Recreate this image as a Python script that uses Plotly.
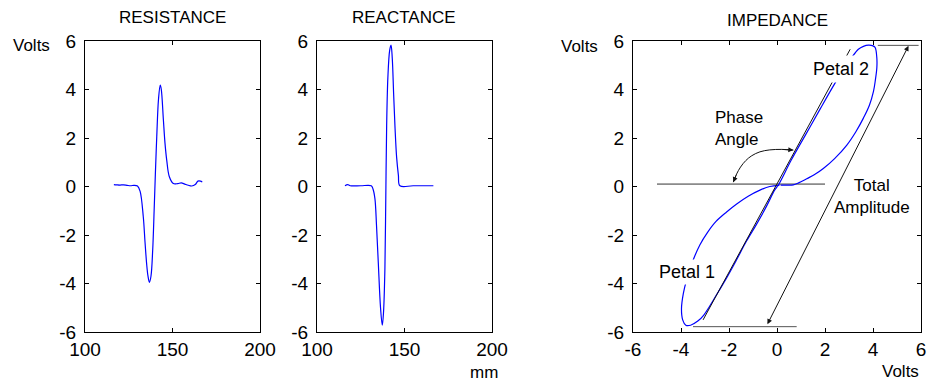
import plotly.graph_objects as go

# ---------------- data ----------------
res_mm = [116.5, 118, 120, 122, 124, 126, 128, 130, 131.5, 133.3, 134.3, 135.2, 136.0, 136.8,
          137.7, 138.7, 139.5, 140.2, 141.0, 142.0, 143.0, 143.6, 144.8, 145.7, 146.7, 148.2,
          150.5, 153, 155, 157, 159, 161, 163, 164.5, 166, 167]
res_v = [0.08, 0.07, 0.06, 0.07, 0.05, 0.03, 0.05, 0.02, -0.2, -1.25, -2.3, -3.17, -3.7, -3.95,
         -3.7, -2.6, -1.0, 0.5, 2.05, 3.6, 4.18, 4.0, 2.74, 1.8, 1.09, 0.4,
         0.12, 0.12, 0.15, 0.1, 0.05, 0.02, 0.08, 0.22, 0.22, 0.18]

rea_mm = [116, 117.5, 119, 125, 131, 132, 133.1, 134, 135, 136.3, 137.3, 138, 138.8, 139.3,
          139.8, 140.5, 141.5, 142.3, 143, 143.8, 144.6, 145.5, 146.5, 147.4, 155, 166.5]
rea_v = [0.03, 0.08, 0.03, 0.03, 0.03, -0.1, -0.5, -1.6, -3.1, -5.0, -5.72, -5.2, -3.4, -0.5,
         2.5, 4.5, 5.6, 5.83, 5.3, 3.8, 2.4, 1.2, 0.47, 0.03, 0.03, 0.03]

imp_r = [0.1, -0.3, -0.71, -1.2, -1.68, -2.1, -2.55, -2.9, -3.21, -3.5, -3.75, -3.9, -3.98, -3.93,
         -3.8, -3.6, -3.3, -3.05, -2.6, -2.1, -1.7, -1.27, -0.85, -0.43, -0.1, 0.05,
         0.6, 1.2, 1.8, 2.35, 2.75, 3.1, 3.39, 3.6, 3.81, 4.0, 4.09, 4.16, 4.16, 4.1, 4.02,
         3.85, 3.6, 3.28, 2.91, 2.4, 1.93, 1.55, 1.24, 0.9, 0.68, 0.4, 0.15]
imp_x = [0.05, 0.0, -0.15, -0.4, -0.72, -1.05, -1.45, -1.9, -2.4, -3.05, -3.8, -4.4, -5.05, -5.5,
         -5.72, -5.72, -5.55, -5.3, -4.6, -3.77, -3.05, -2.25, -1.55, -0.8, -0.15, 0.05,
         1.1, 2.15, 3.2, 4.15, 4.8, 5.3, 5.66, 5.78, 5.83, 5.8, 5.73, 5.3, 4.9, 4.4, 3.92,
         3.35, 2.82, 2.25, 1.71, 1.15, 0.74, 0.48, 0.32, 0.15, 0.07, 0.06, 0.06]

# construction lines in the impedance panel
base_x = [-5.0, 2.0]
base_y = [0.1, 0.1]
tangent_x = [-3.08, 3.05]
tangent_y = [-5.5, 5.66]
top_x = [4.2, 5.9]
top_y = [5.82, 5.82]
bot_x = [-3.5, 0.82]
bot_y = [-5.78, -5.78]
arc_x = [0.68, 0.2, -0.3, -0.71, -1.05, -1.3, -1.52, -1.68, -1.82]
arc_y = [1.5, 1.53, 1.51, 1.43, 1.27, 1.07, 0.8, 0.52, 0.18]
amp_head = [5.48, 5.8]
amp_tail = [-0.43, -5.74]

ticks_mm = [100, 150, 200]
ticks_v = [-6, -4, -2, 0, 2, 4, 6]
ticks_v_txt = ["-6", "-4", "-2", "0", "2", "4", "6"]

BLUE = "#0000ff"
FONT = "Liberation Sans, Arial, sans-serif"

fig = go.Figure()
fig.add_trace(go.Scatter(x=res_mm, y=res_v, mode="lines", line=dict(color=BLUE, width=1.2),
                         xaxis="x", yaxis="y", line_shape="spline"))
fig.add_trace(go.Scatter(x=rea_mm, y=rea_v, mode="lines", line=dict(color=BLUE, width=1.2),
                         xaxis="x2", yaxis="y2", line_shape="spline"))
fig.add_trace(go.Scatter(x=base_x, y=base_y, mode="lines", line=dict(color="#333", width=1),
                         xaxis="x3", yaxis="y3"))
fig.add_trace(go.Scatter(x=top_x, y=top_y, mode="lines", line=dict(color="#555", width=1),
                         xaxis="x3", yaxis="y3"))
fig.add_trace(go.Scatter(x=bot_x, y=bot_y, mode="lines", line=dict(color="#555", width=1),
                         xaxis="x3", yaxis="y3"))
fig.add_trace(go.Scatter(x=imp_r, y=imp_x, mode="lines", line=dict(color=BLUE, width=1.2),
                         xaxis="x3", yaxis="y3", line_shape="spline"))
fig.add_trace(go.Scatter(x=tangent_x, y=tangent_y, mode="lines", line=dict(color="#111", width=1),
                         xaxis="x3", yaxis="y3"))
fig.add_trace(go.Scatter(x=arc_x, y=arc_y, mode="lines", line=dict(color="#111", width=1),
                         xaxis="x3", yaxis="y3", line_shape="spline"))

axis_common = dict(showline=True, linecolor="black", linewidth=1, mirror="ticks",
                   ticks="inside", ticklen=4, tickcolor="black", showgrid=False,
                   zeroline=False, tickfont=dict(family=FONT, size=19, color="black"),
                   fixedrange=True, automargin=False)
ydom = [1 - 332 / 386, 1 - 41 / 386]


def paper_text(txt, px, py, size=17):
    return dict(text=txt, x=px / 927, y=1 - py / 386, xref="paper", yref="paper",
                xanchor="center", yanchor="middle", showarrow=False,
                font=dict(size=size, family=FONT, color="black"))


annotations = [
    paper_text("RESISTANCE", 172.5, 17),
    paper_text("REACTANCE", 404, 17),
    paper_text("IMPEDANCE", 777, 21),
    paper_text("Volts", 31, 46),
    paper_text("Volts", 579, 47),
    paper_text("mm", 484, 372),
    paper_text("Volts", 900, 371),
    dict(text="Petal 2", x=2.67, y=4.83, xref="x3", yref="y3", showarrow=False,
         xanchor="center", yanchor="middle",
         bgcolor="white", borderpad=3, font=dict(size=18, family=FONT, color="black")),
    dict(text="Petal 1", x=-3.73, y=-3.52, xref="x3", yref="y3", showarrow=False,
         xanchor="center", yanchor="middle",
         bgcolor="white", borderpad=2, font=dict(size=18, family=FONT, color="black")),
    dict(text="Phase<br>Angle", x=-1.6, y=2.4, xref="x3", yref="y3", showarrow=False,
         xanchor="center", yanchor="middle",
         align="left", font=dict(size=17, family=FONT, color="black")),
    dict(text="Total<br>Amplitude", x=3.97, y=-0.42, xref="x3", yref="y3", showarrow=False,
         xanchor="center", yanchor="middle",
         align="center", font=dict(size=17, family=FONT, color="black")),
    dict(text="", x=amp_head[0], y=amp_head[1], ax=amp_tail[0], ay=amp_tail[1],
         xref="x3", yref="y3", axref="x3", ayref="y3", showarrow=True,
         arrowhead=2, startarrowhead=2, arrowside="end+start", arrowsize=1,
         startarrowsize=1, arrowwidth=1, arrowcolor="#111"),
    dict(text="", x=arc_x[0], y=arc_y[0], ax=arc_x[1], ay=arc_y[1],
         xref="x3", yref="y3", axref="x3", ayref="y3", showarrow=True,
         arrowhead=2, arrowsize=1, arrowwidth=1, arrowcolor="#111"),
    dict(text="", x=arc_x[-1], y=arc_y[-1], ax=arc_x[-2], ay=arc_y[-2],
         xref="x3", yref="y3", axref="x3", ayref="y3", showarrow=True,
         arrowhead=2, arrowsize=1, arrowwidth=1, arrowcolor="#111"),
]

fig.update_layout(
    width=927, height=386, margin=dict(l=0, r=0, t=0, b=0, autoexpand=False),
    paper_bgcolor="white", plot_bgcolor="white", showlegend=False,
    xaxis=dict(domain=[85 / 927, 260 / 927], range=[100, 200], tickvals=ticks_mm,
               anchor="y", **axis_common),
    yaxis=dict(domain=ydom, range=[-6, 6], tickvals=ticks_v, ticktext=ticks_v_txt,
               anchor="x", ticklabelstandoff=4, **axis_common),
    xaxis2=dict(domain=[317 / 927, 492 / 927], range=[100, 200], tickvals=ticks_mm,
                anchor="y2", **axis_common),
    yaxis2=dict(domain=ydom, range=[-6, 6], tickvals=ticks_v, ticktext=ticks_v_txt,
                anchor="x2", ticklabelstandoff=4, **axis_common),
    xaxis3=dict(domain=[633 / 927, 921 / 927], range=[-6, 6], tickvals=ticks_v,
                ticktext=ticks_v_txt, anchor="y3", **axis_common),
    yaxis3=dict(domain=ydom, range=[-6, 6], tickvals=ticks_v, ticktext=ticks_v_txt,
                anchor="x3", ticklabelstandoff=4, **axis_common),
    annotations=annotations,
)

fig.write_html("out.html")
